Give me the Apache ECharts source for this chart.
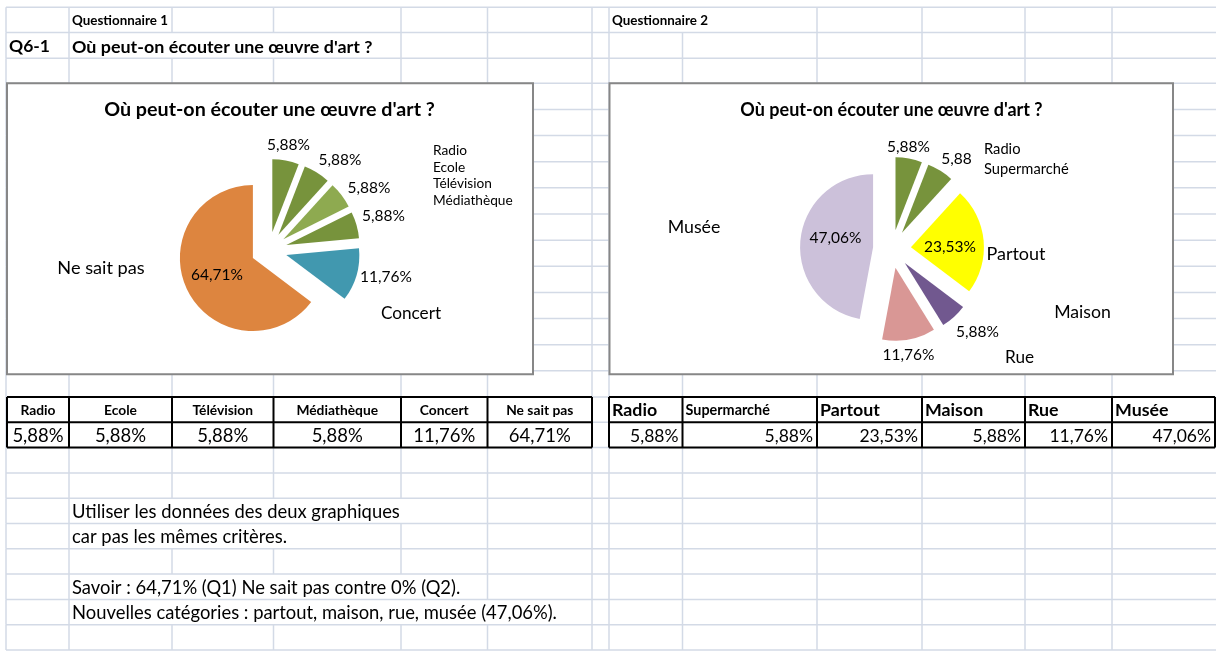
<!DOCTYPE html>
<html>
<head>
<meta charset="utf-8">
<script src="https://cdn.jsdelivr.net/npm/echarts@6/dist/echarts.min.js"></script>
<style>
  html, body { margin: 0; padding: 0; background: #fff; }
  #main { width: 1216px; height: 651px; }
</style>
</head>
<body>
<div id="main"></div>
<script>
// ---- Data ----
const questionTitle = "Où peut-on écouter une œuvre d'art ?";
const categories1 = ['Radio', 'Ecole', 'Télévision', 'Médiathèque', 'Concert', 'Ne sait pas'];
const values1 = [5.88, 5.88, 5.88, 5.88, 11.76, 64.71];
const categories2 = ['Radio', 'Supermarché', 'Partout', 'Maison', 'Rue', 'Musée'];
const values2 = [5.88, 5.88, 23.53, 5.88, 11.76, 47.06];

// ---- Look ----
const FONT = 'Lato, "Open Sans", sans-serif';
const colors1 = ['#77933C', '#77933C', '#8EAA50', '#77933C', '#4198AF', '#DD853F'];
const colors2 = ['#77933C', '#77933C', '#FFFF00', '#71588F', '#D99795', '#CCC1DA'];
const GRID = '#D3DAE6';

const pct = v => v.toFixed(2).replace('.', ',') + '%';

// Sheet geometry (column and row boundaries)
const colX = [6, 69, 172, 273.5, 401, 487.5, 592, 609, 682.5, 817, 922, 1025, 1112];
const rowY = [7.3, 32.5, 58.3, 83.3];
for (let k = 1; k <= 12; k++) rowY.push(83.3 + k * (397 - 83.3) / 12);
for (let k = 1; k <= 10; k++) rowY.push(397 + k * 25.3);
// vertical gridlines hidden by overflowing cell text, per row
const hiddenV = { 0: [682.5], 1: [172, 273.5], 19: [172, 273.5, 401], 20: [172, 273.5], 22: [172, 273.5, 401], 23: [172, 273.5, 401, 487.5] };
const textY = r => rowY[r + 1] - 11.5;

function txt(text, x, y, size, o = {}) {
  const align = o.align || 'left';
  return {
    type: 'text', x, y, z: o.z || 10, silent: true,
    style: {
      text, fill: '#000', font: (o.bold ? 'bold ' : '') + size + 'px ' + FONT,
      textAlign: align, textVerticalAlign: 'middle', align, verticalAlign: 'middle'
    }
  };
}
function line(x1, y1, x2, y2, stroke, w, z) {
  return { type: 'line', z, silent: true, shape: { x1, y1, x2, y2 }, style: { stroke, lineWidth: w } };
}

const els = [];
// spreadsheet gridlines
rowY.forEach(y => els.push(line(6, y, 1216, y, GRID, 1.5, 0)));
for (let r = 0; r < rowY.length - 1; r++) {
  colX.forEach(x => {
    if (hiddenV[r] && hiddenV[r].includes(x)) return;
    els.push(line(x, rowY[r], x, rowY[r + 1], GRID, 1.5, 0));
  });
}

// sheet headings
els.push(txt('Questionnaire 1', 72, textY(0), 13.4, { bold: true }));
els.push(txt('Questionnaire 2', 612, textY(0), 13.4, { bold: true }));
els.push(txt('Q6-1', 9, textY(1), 17.5, { bold: true }));
els.push(txt(questionTitle, 72, textY(1), 17.9, { bold: true }));

// chart frames
[[7, 83.3, 533, 374.3], [609.5, 83.3, 1173, 374.3]].forEach(([x1, y1, x2, y2]) => {
  els.push({ type: 'rect', z: 1, silent: true, shape: { x: x1, y: y1, width: x2 - x1, height: y2 - y1 },
    style: { fill: '#fff', stroke: '#878787', lineWidth: 2 } });
});
els.push(txt(questionTitle, 269.5, 110, 19.7, { bold: true, align: 'center' }));
els.push(txt(questionTitle, 891.5, 110, 18, { bold: true, align: 'center' }));

// value labels on the pies
const valueSpots1 = [[288.5, 145], [340, 160], [369, 188], [383.5, 216], [386, 277], [217, 275]];
const valueSpots2 = [[908.5, 147], [956.5, 159], [950, 247], [977.5, 332], [908.5, 355], [835.5, 238]];
const valueSuffix2 = ['%', '', '%', '%', '%', '%'];
values1.forEach((v, i) => els.push(txt(pct(v), valueSpots1[i][0], valueSpots1[i][1], 15.5, { align: 'center' })));
values2.forEach((v, i) => els.push(txt(pct(v).replace('%', valueSuffix2[i]), valueSpots2[i][0], valueSpots2[i][1], 15.5, { align: 'center' })));

// category labels on the pies
const nameSpots1 = [[433, 151, 13.7, 'left'], [433, 168, 13.7, 'left'], [433, 184, 13.7, 'left'], [433, 201, 13.7, 'left'], [411, 313, 17.2, 'center'], [101, 268, 18.2, 'center']];
const nameSpots2 = [[984, 149, 14.7, 'left'], [984, 169, 14.7, 'left'], [1016, 254, 18, 'center'], [1082.5, 312, 17.7, 'center'], [1019.5, 357, 17.2, 'center'], [694, 227, 17.8, 'center']];
categories1.forEach((c, i) => { const s = nameSpots1[i]; els.push(txt(c, s[0], s[1], s[2], { align: s[3] })); });
categories2.forEach((c, i) => { const s = nameSpots2[i]; els.push(txt(c, s[0], s[1], s[2], { align: s[3] })); });

// data tables
function table(cats, vals, cols, headerSizes, valueSize, headerAlign, valueAlign) {
  const y0 = rowY[15], y1 = rowY[16], y2 = rowY[17];
  const left = cols[0], right = cols[cols.length - 1];
  els.push({ type: 'rect', z: 2, silent: true, shape: { x: left, y: y0, width: right - left, height: y2 - y0 },
    style: { fill: '#fff', stroke: null } });
  [y0, y1, y2].forEach(y => els.push(line(left, y, right, y, '#000', 2, 3)));
  cols.forEach(x => els.push(line(x, y0, x, y2, '#000', 2, 3)));
  cats.forEach((c, i) => {
    const a = cols[i], b = cols[i + 1];
    const hx = headerAlign === 'center' ? (a + b) / 2 : a + 3;
    els.push(txt(c, hx, (y0 + y1) / 2 + 1, headerSizes[i], { bold: true, align: headerAlign }));
    const vx = valueAlign === 'center' ? (a + b) / 2 : b - 4;
    els.push(txt(pct(vals[i]), vx, (y1 + y2) / 2 + 1, valueSize, { align: valueAlign }));
  });
}
table(categories1, values1, [7, 69, 172, 273.5, 401, 487.5, 592], [13.8, 13.8, 13.8, 13.8, 13.8, 13.8], 18.5, 'center', 'center');
table(categories2, values2, [609, 682.5, 817, 922, 1025, 1112, 1215], [17.8, 14.4, 17.8, 17.8, 17.8, 17.8], 17.5, 'left', 'right');

// notes
const notes = [
  [19, 'Utiliser les données des deux graphiques'],
  [20, 'car pas les mêmes critères.'],
  [22, 'Savoir : ' + pct(values1[5]) + ' (Q1) Ne sait pas contre 0% (Q2).'],
  [23, 'Nouvelles catégories : partout, maison, rue, musée (' + pct(values2[5]) + ').']
];
notes.forEach(([r, t]) => els.push(txt(t, 72, textY(r), 18.4)));

function pie(cats, vals, colors, center, offset) {
  return {
    type: 'pie', z: 5, center, radius: 73, startAngle: 90, clockwise: true,
    selectedMode: 'multiple', selectedOffset: offset,
    label: { show: false }, labelLine: { show: false },
    emphasis: { disabled: true },
    itemStyle: { borderWidth: 0 },
    data: cats.map((name, i) => ({ name, value: vals[i], selected: true, itemStyle: { color: colors[i] } }))
  };
}

const chart = echarts.init(document.getElementById('main'), null, { renderer: 'canvas' });
chart.setOption({
  animation: false,
  backgroundColor: '#fff',
  graphic: { elements: els },
  series: [
    pie(categories1, values1, colors1, [269, 250], 18),
    pie(categories2, values2, colors2, [892, 249], 19)
  ]
});
</script>
</body>
</html>
